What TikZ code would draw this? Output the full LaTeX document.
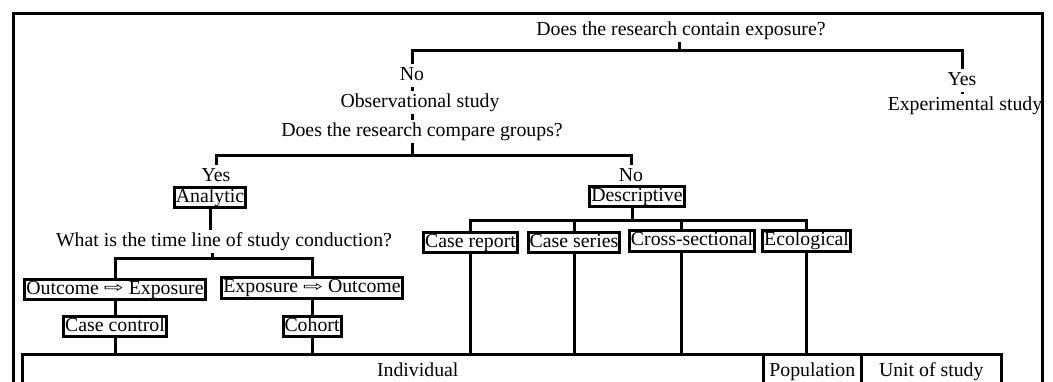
\documentclass[tikz,border=0pt]{standalone}
\usepackage{fontspec}
\setmainfont{Liberation Serif}
\newfontfamily\arrowfont{DejaVu Sans}
\usepackage{tikz}
\usetikzlibrary{positioning}
\def\lw{3pt}
\def\crossShift{-11pt}
\newcommand{\thenarrow}{\raisebox{1.5pt}{\resizebox{20pt}{8pt}{\arrowfont ⇨}}}

\begin{document}
\begin{tikzpicture}[
    x=1pt, y=-1pt,
    line width=\lw,
    every node/.style={font=\fontsize{19.8pt}{23pt}\selectfont, inner sep=1pt,
        text height=13.5pt, text depth=4pt},
    box/.style={draw, line width=\lw, inner sep=1.5pt},
    cell/.style={draw, line width=2.5pt, anchor=north west, minimum height=34pt}
]
\useasboundingbox (0,0) rectangle (1053,381);
\clip (0,0) rectangle (1053,381);
\draw (13,13) rectangle (1042,420);

% exposure question
\node[anchor=base] (q1) at (681,35) {Does the research contain exposure?};
\node[anchor=base] (no1) at (412,80) {No};
\node[anchor=base] (yes1) at (962,85) {Yes};
\node[anchor=base] (obs) at (420,107) {Observational study};
\node[anchor=base] (exp) at (965,110) {Experimental study};
\coordinate (bar1) at (679,50);
\draw (bar1 |- q1.south) -- (bar1);
\draw (no1.north) |- (bar1) -| (yes1.north);
\draw (no1.south) -- (no1.south |- obs.north);
\draw (yes1.south) -- (yes1.south |- exp.north);

% groups question
\node[anchor=base] (q2) at (422,136) {Does the research compare groups?};
\node[anchor=base] (yes2) at (216,181) {Yes};
\node[anchor=base] (no2) at (631,181) {No};
\node[box] (analytic) at (210,197.5) {Analytic};
\node[box] (descr) at (637,196.5) {Descriptive};
\coordinate (bar2) at (412,155);
\draw (no1.south |- obs.south) -- (no1.south |- q2.north);
\draw (no1.south |- q2.south) -- (bar2);
\draw (yes2.north) |- (bar2) -| (no2.north);

% analytic branch
\node[anchor=base] (q3) at (224,246) {What is the time line of study conduction?};
\node[box] (oe) at (115,289.5) {Outcome \thenarrow{} Exposure};
\node[box] (eo) at (312,288) {Exposure \thenarrow{} Outcome};
\node[box] (cc) at (115,326.5) {Case control};
\node[box] (cohort) at (312,326.5) {Cohort};
\coordinate (bar3) at (212,258);
\draw (analytic.south) -- (analytic.south |- q3.north);
\draw (bar3 |- q3.south) -- (bar3);
\draw (oe.north) |- (bar3) -| (eo.north);
\draw (oe.south) -- (cc.north);
\draw (eo.south) -- (cohort.north);

% descriptive branch
\node[box] (crep) at (470.5,242.5) {Case report};
\node[box] (cser) at (574,242.5) {Case series};
\node[box] (cross) at (692,241) {Cross-sectional};
\node[box] (eco) at (806.5,241) {Ecological};
\coordinate (bar4) at (632,220);
\draw (bar4 |- descr.south) -- (bar4);
\draw (crep.north) |- (bar4) -| (eco.north);
\draw (cser.north) -- (cser.north |- bar4);
\draw ([xshift=\crossShift]cross.north) -- ([xshift=\crossShift]cross.north |- bar4);

% unit of study
\node[cell, minimum width=741pt] (indiv) at (21,353) {\hspace*{50pt}Individual};
\node[cell, minimum width=98pt] (popul) at (762,353) {Population};
\node[cell, minimum width=140pt] (unit) at (860,353) {Unit of study};
\draw (cc.south) -- (cc.south |- indiv.north);
\draw (cohort.south) -- (cohort.south |- indiv.north);
\draw (crep.south) -- (crep.south |- indiv.north);
\draw (cser.south) -- (cser.south |- indiv.north);
\draw ([xshift=\crossShift]cross.south) -- ([xshift=\crossShift]cross.south |- indiv.north);
\draw (eco.south) -- (eco.south |- popul.north);
\end{tikzpicture}
\end{document}
